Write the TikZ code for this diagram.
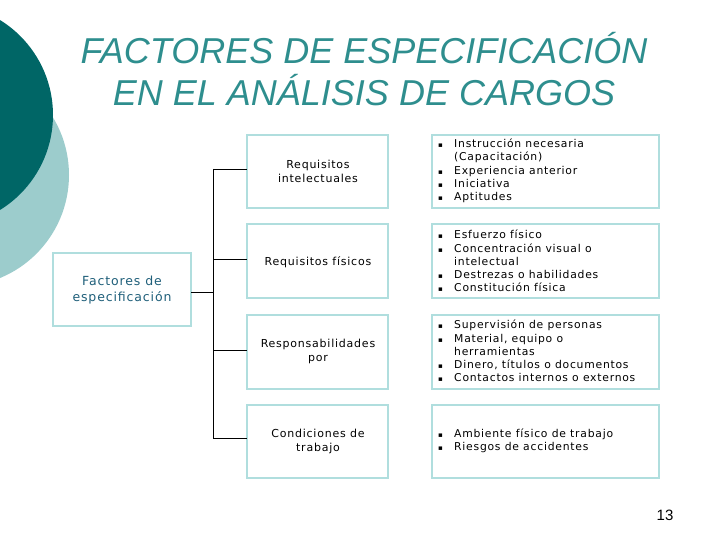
\documentclass[tikz,border=0pt]{standalone}
\usepackage{fontspec}
\setmainfont{DejaVu Sans}[LetterSpace=7]
\newfontfamily\titlefont{Liberation Sans}
\newfontfamily\numfont{Liberation Sans}
\definecolor{darkteal}{HTML}{006666}
\definecolor{lightteal}{HTML}{9CCCCC}
\definecolor{boxline}{HTML}{B0DEDE}
\definecolor{titlecol}{HTML}{2E8E8E}
\definecolor{lefttext}{HTML}{1F5F7A}
\newcommand{\bl}{\makebox[16pt][l]{\scriptsize ▪}}
\newcommand{\ind}{\hspace*{16pt}}
\begin{document}
\begin{tikzpicture}[x=1pt,y=-1pt,
  box/.style={draw=boxline,line width=2.5pt,fill=white},
  txt/.style={font=\fontsize{11}{14}\selectfont,align=center},
  btxt/.style={font=\fontsize{10.8}{13.2}\selectfont,align=left,anchor=west,inner sep=0pt},
  conn/.style={draw=black,line width=0.8pt}]
\useasboundingbox (0,0) rectangle (720,540);
\clip (0,0) rectangle (720,540);
\fill[lightteal] (-42.4,175) circle (111.4);
\fill[darkteal] (-58.6,115) circle (111.6);
\node[font=\titlefont\itshape\fontsize{36}{42}\selectfont,text=titlecol,align=center] (title) at (364,69) {FACTORES DE ESPECIFICACIÓN\\EN EL ANÁLISIS DE CARGOS};
% left box
\draw[box] (53,253) rectangle (191,326);
\node[txt,text=lefttext,font=\fontsize{12.5}{16}\selectfont] (fac) at (122,290) {Factores de\\especificación};
\coordinate (facR) at (191,292);
% middle boxes
\draw[box] (247,135) rectangle (388,208);
\draw[box] (247,224) rectangle (388,298);
\draw[box] (247,315) rectangle (388,389);
\draw[box] (247,405) rectangle (388,478);
\coordinate (m1) at (247,169);
\coordinate (m2) at (247,259);
\coordinate (m3) at (247,350);
\coordinate (m4) at (247,438);
\node[txt] (t1) at (318,171) {Requisitos\\intelectuales};
\node[txt] (t2) at (318,262) {Requisitos físicos};
\node[txt] (t3) at (318,351) {Responsabilidades\\por};
\node[txt] (t4) at (318,441) {Condiciones de\\trabajo};
% right boxes
\draw[box] (432,135) rectangle (659,208);
\draw[box] (432,224) rectangle (659,298);
\draw[box] (432,315) rectangle (659,389);
\draw[box] (432,405) rectangle (659,478);
\node[btxt] (r1) at (438,171) {\bl Instrucción necesaria\\\ind(Capacitación)\\\bl Experiencia anterior\\\bl Iniciativa\\\bl Aptitudes};
\node[btxt] (r2) at (438,261) {\bl Esfuerzo físico\\\bl Concentración visual o\\\ind intelectual\\\bl Destrezas o habilidades\\\bl Constitución física};
\node[btxt] (r3) at (438,351) {\bl Supervisión de personas\\\bl Material, equipo o\\\ind herramientas\\\bl Dinero, títulos o documentos\\\bl Contactos internos o externos};
\node[btxt] (r4) at (438,441) {\bl Ambiente físico de trabajo\\\bl Riesgos de accidentes};
% connectors
\coordinate (j) at (213,292);
\draw[conn] (facR) -- (j);
\draw[conn] (213,169) -- (213,438);
\draw[conn] (213,169) -- (m1);
\draw[conn] (213,259) -- (m2);
\draw[conn] (213,350) -- (m3);
\draw[conn] (213,438) -- (m4);
\node[font=\numfont\fontsize{15}{16}\selectfont] (pg) at (665,515) {13};
\end{tikzpicture}
\end{document}
